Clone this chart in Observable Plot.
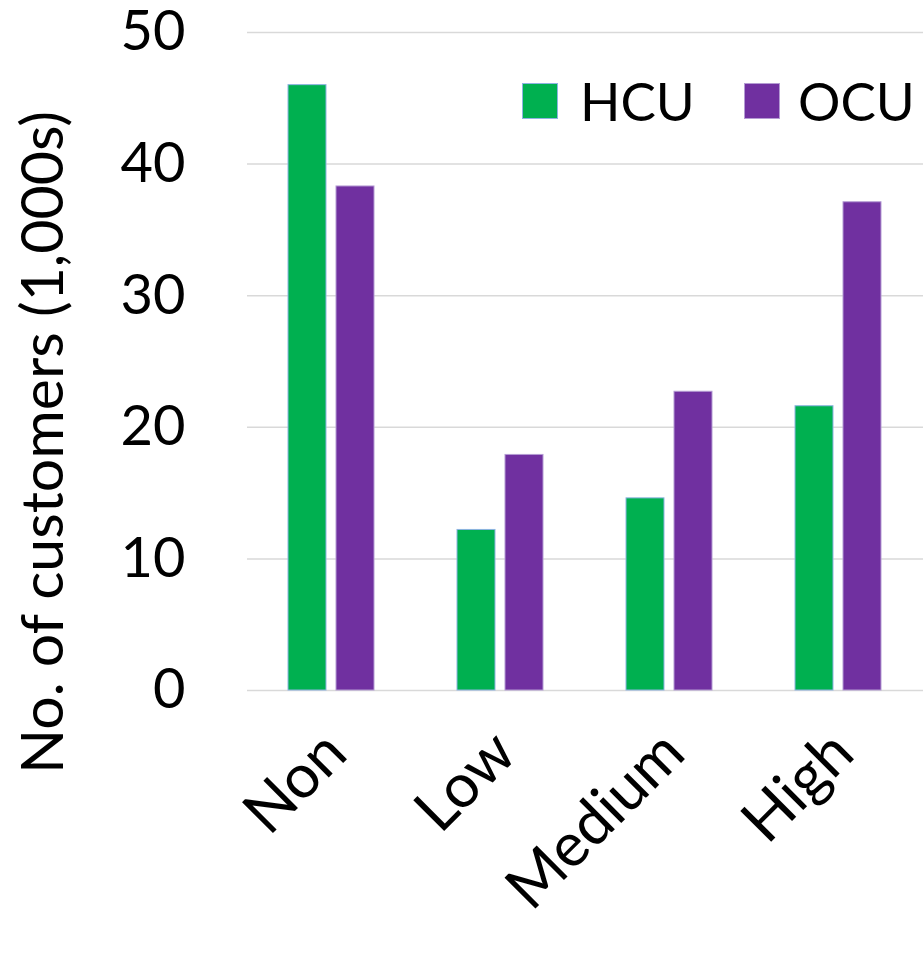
<!DOCTYPE html>
<html>
<head>
<meta charset="utf-8">
<script src="https://cdn.jsdelivr.net/npm/d3@7"></script>
<script src="https://cdn.jsdelivr.net/npm/@observablehq/plot@0.6"></script>
<style>
  body { margin: 0; background: #fff; }
  #chart { position: relative; width: 923px; height: 960px; font-family: Lato, sans-serif; }
  .swatch { position: absolute; width: 36px; height: 36px; box-sizing: border-box; border: 1px solid; }
  .legend-label { position: absolute; font-size: 53px; line-height: 1; color: #000; }
</style>
</head>
<body>
<div id="chart"></div>
<script>
// Customer counts (thousands) by usage group
const categories = ["Non", "Low", "Medium", "High"];
const series = ["HCU", "OCU"];
const hcu = [46.0, 12.2, 14.6, 21.6];
const ocu = [38.3, 17.9, 22.7, 37.1];
const fills = ["#00B050", "#7030A0"];
const borders = ["#8db3e2", "#b49bd3"];
const yTicks = [0, 10, 20, 30, 40, 50];
const yLabel = "No. of customers (1,000s)";

const rows = categories.flatMap((c, i) => [
  {category: c, series: "HCU", value: hcu[i]},
  {category: c, series: "OCU", value: ocu[i]}
]);

const chart = Plot.plot({
  width: 923,
  height: 960,
  marginLeft: 247,
  marginRight: 0,
  marginTop: 32,
  marginBottom: 270,
  style: {fontFamily: "Lato, sans-serif", background: "#fff", color: "#000", overflow: "visible"},
  fx: {domain: categories, padding: 0, label: null},
  x: {domain: series, paddingInner: 0.208, paddingOuter: 0.864, axis: null},
  y: {domain: [0, 50], ticks: yTicks},
  marks: [
    Plot.gridY(yTicks, {stroke: "#d9d9d9", strokeOpacity: 1, strokeWidth: 1.5}),
    ...series.map((s, k) =>
      Plot.barY(rows.filter(d => d.series === s), {
        fx: "category", x: "series", y: "value",
        fill: fills[k], stroke: borders[k], strokeWidth: 1
      })
    ),
    Plot.axisY(yTicks, {tickSize: 0, tickPadding: 62, fontSize: 56, label: null}),
    Plot.axisFx({anchor: "bottom", tickRotate: -45, tickSize: 0, tickPadding: 52, dx: 4, fontSize: 61, label: null}),
    Plot.text([yLabel], {
      facet: "super", frameAnchor: "left", rotate: -90, textAnchor: "middle",
      dx: -203, dy: 81, fontSize: 59, fill: "#000"
    })
  ]
});

const root = document.getElementById("chart");
root.appendChild(chart);

// Legend swatches placed in the upper right of the plot area
const legendPos = [{sw: 522, tx: 580}, {sw: 744, tx: 798}];
series.forEach((s, k) => {
  const sw = document.createElement("div");
  sw.className = "swatch";
  sw.style.left = legendPos[k].sw + "px";
  sw.style.top = "83px";
  sw.style.background = fills[k];
  sw.style.borderColor = borders[k];
  root.appendChild(sw);
  const tx = document.createElement("div");
  tx.className = "legend-label";
  tx.style.left = legendPos[k].tx + "px";
  tx.style.top = "74px";
  tx.textContent = s;
  root.appendChild(tx);
});
</script>
</body>
</html>
